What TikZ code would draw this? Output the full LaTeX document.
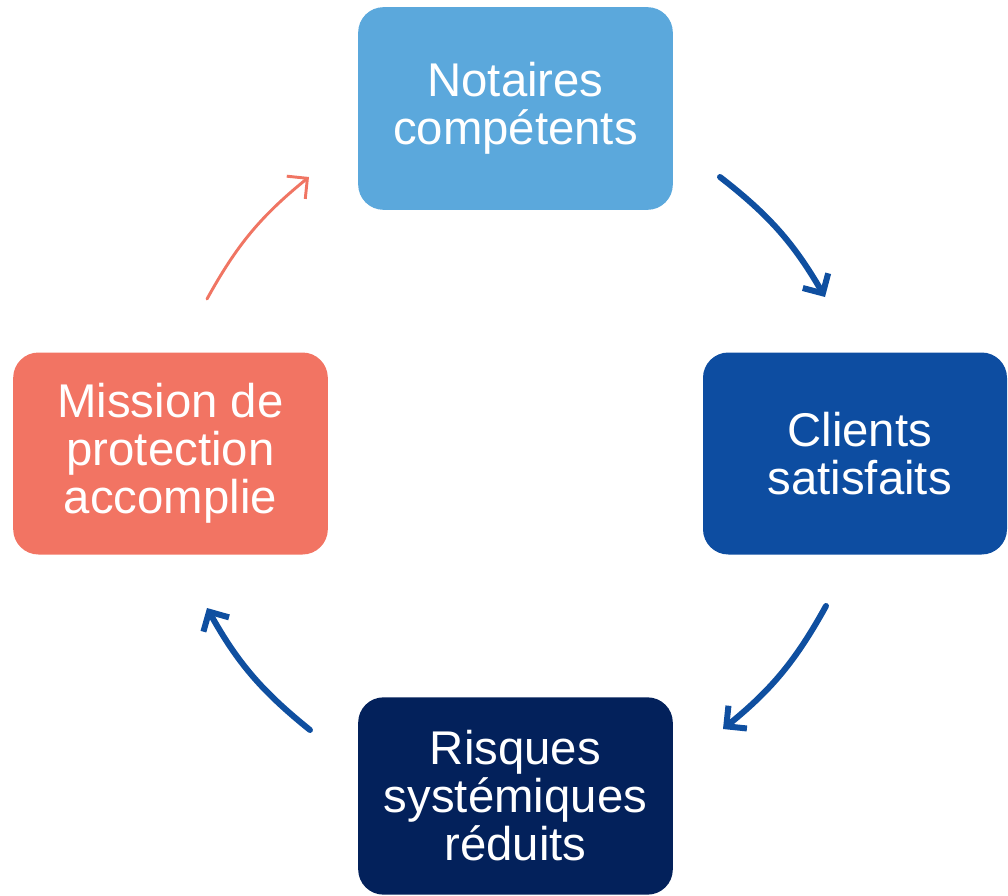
\documentclass[tikz,border=0pt]{standalone}
\usepackage{fontspec}
\setmainfont{Liberation Sans}
\usetikzlibrary{arrows.meta}
\definecolor{cTop}{HTML}{5BA8DC}
\definecolor{cRight}{HTML}{0D4DA1}
\definecolor{cBottom}{HTML}{03215B}
\definecolor{cLeft}{HTML}{F27463}
\definecolor{cArrow}{HTML}{0F4FA0}
\definecolor{cSalmon}{HTML}{F07563}
\tikzset{
  box/.style={rounded corners=19pt, text=white, align=center,
    inner sep=0pt, font=\fontsize{35.5}{36}\selectfont},
  bluearrow/.style={draw=cArrow, line width=4.5pt, line cap=round,
    -{Straight Barb[length=11pt,width=22pt,line width=4.5pt]}},
  salmonarrow/.style={draw=cSalmon, line width=2.2pt, line cap=round,
    -{Straight Barb[length=11pt,width=22pt,line width=2.2pt]}}
}
\begin{document}
\begin{tikzpicture}[x=0.75pt,y=-0.75pt]
\useasboundingbox (0,0) rectangle (1008,896);
\node[box, fill=cTop, minimum width=236pt, minimum height=152pt] (top) at (515.5,108.5) {Notaires\\compétents};
\node[box, fill=cRight, minimum width=228pt, minimum height=151.5pt] (right) at (855,453.5) {\hspace*{7pt}Clients\\\hspace*{7pt}satisfaits};
\node[box, fill=cBottom, minimum width=236pt, minimum height=148pt] (bottom) at (515.5,796) {Risques\\systémiques\\réduits};
\node[box, fill=cLeft, minimum width=236pt, minimum height=151.5pt] (left) at (170.5,453.5) {Mission de\\protection\\accomplie};
\coordinate (a1s) at (720,177);
\coordinate (a1e) at (825,297);
\coordinate (a2s) at (826,606);
\coordinate (a2e) at (723,729);
\coordinate (a3s) at (310,730);
\coordinate (a3e) at (207,608);
\coordinate (a4s) at (207,299);
\coordinate (a4e) at (309,177);
\draw[bluearrow] (a1s) to[bend left=11] (a1e);
\draw[bluearrow] (a2s) to[bend left=11] (a2e);
\draw[bluearrow] (a3s) to[bend left=11] (a3e);
\draw[salmonarrow] (a4s) to[bend left=11] (a4e);
\end{tikzpicture}
\end{document}
